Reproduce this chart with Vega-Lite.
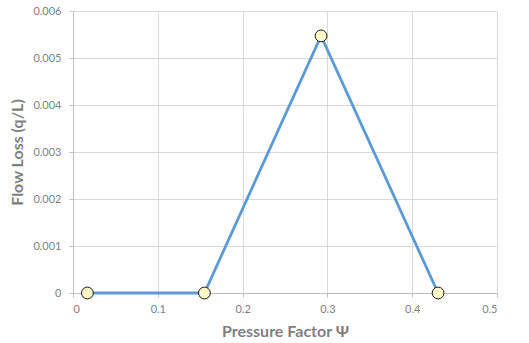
{
  "$schema": "https://vega.github.io/schema/vega-lite/v6.json",
  "autosize": "none",
  "width": 424,
  "height": 282,
  "padding": {"left": 73, "top": 11, "right": 32, "bottom": 50},
  "background": "white",
  "config": {
    "view": {"stroke": null},
    "font": "Lato",
    "axis": {
      "labelFont": "Lato",
      "labelFontSize": 11,
      "labelColor": "#7f7f7f",
      "titleFont": "Lato",
      "titleFontSize": 16,
      "titleFontWeight": "bold",
      "titleColor": "#7f7f7f",
      "gridColor": "#d9d9d9",
      "gridWidth": 1,
      "domainColor": "#bfbfbf",
      "tickColor": "#bfbfbf",
      "tickSize": 4
    }
  },
  "data": {
    "values": [
      {"psi": 0.017, "loss": 0},
      {"psi": 0.155, "loss": 0},
      {"psi": 0.2925, "loss": 0.00547},
      {"psi": 0.4305, "loss": 0}
    ]
  },
  "encoding": {
    "x": {
      "field": "psi",
      "type": "quantitative",
      "scale": {"domain": [0, 0.5], "nice": false, "zero": false},
      "axis": {
        "title": "Pressure Factor Ψ",
        "values": [0, 0.1, 0.2, 0.3, 0.4, 0.5],
        "format": "~g",
        "labelPadding": 6,
        "titlePadding": 9,
        "domain": true
      }
    },
    "y": {
      "field": "loss",
      "type": "quantitative",
      "scale": {"domain": [0, 0.006], "nice": false},
      "axis": {
        "title": "Flow Loss (q/L)",
        "values": [0, 0.001, 0.002, 0.003, 0.004, 0.005, 0.006],
        "format": "~g",
        "labelPadding": 8,
        "titlePadding": 7
      }
    }
  },
  "layer": [
    {
      "mark": {"type": "line", "color": "#5b9bd5", "strokeWidth": 2.8}
    },
    {
      "mark": {"type": "point", "filled": true, "fill": "#fff8c6", "stroke": "#1a1a1a", "strokeWidth": 1, "size": 140, "opacity": 1}
    }
  ]
}
